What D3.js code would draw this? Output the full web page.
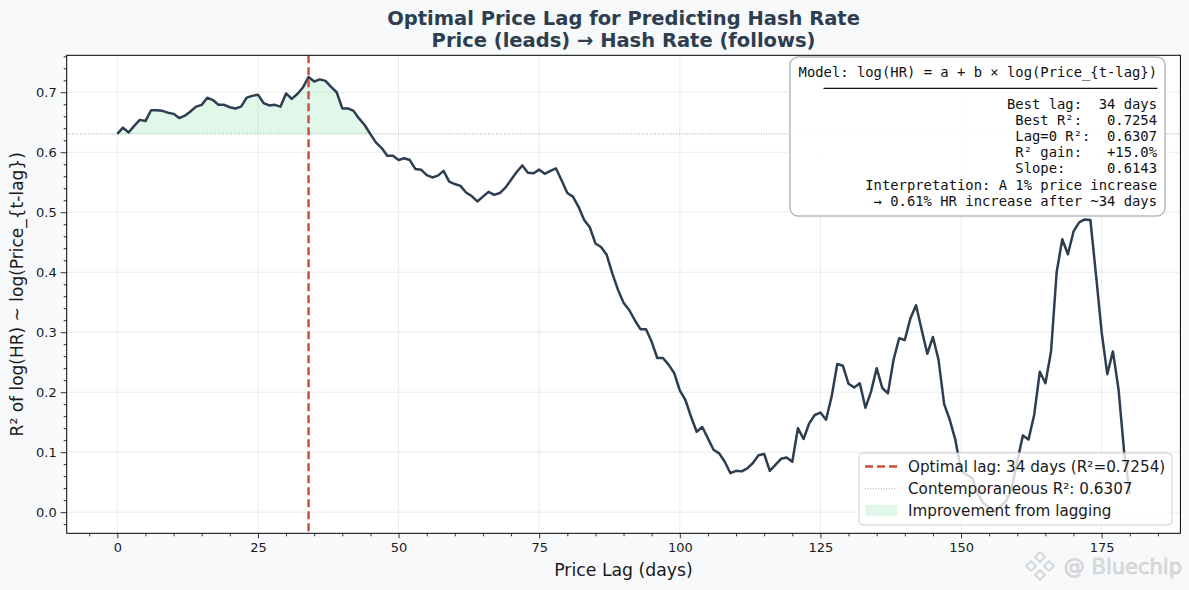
<!DOCTYPE html>
<html lang="en">
<head>
<meta charset="UTF-8">
<title>Optimal Price Lag for Predicting Hash Rate</title>
<script src="https://d3js.org/d3.v7.min.js"></script>
<style>
  body { margin: 0; background: #f8f9fa; }
  svg { display: block; font-family: "DejaVu Sans", sans-serif; }
  .mono { font-family: "DejaVu Sans Mono", monospace; }
  .tick text { font-family: "DejaVu Sans", sans-serif; }
</style>
</head>
<body>
<svg width="1189" height="590"></svg>
<script>
// ---- data ----
const r2 = [
  0.6307, 0.641, 0.633, 0.644, 0.654, 0.652, 0.670, 0.670, 0.669, 0.666,
  0.664, 0.657, 0.661, 0.668, 0.676, 0.679, 0.691, 0.687, 0.679, 0.679,
  0.675, 0.673, 0.676, 0.691, 0.694, 0.696, 0.682, 0.678, 0.679, 0.676,
  0.698, 0.689, 0.697, 0.708, 0.7254, 0.718, 0.7215, 0.719, 0.709, 0.700,
  0.673, 0.673, 0.669, 0.656, 0.645, 0.630, 0.616, 0.607, 0.594, 0.594,
  0.587, 0.590, 0.587, 0.572, 0.571, 0.562, 0.558, 0.561, 0.569, 0.551,
  0.547, 0.544, 0.533, 0.527, 0.518, 0.526, 0.534, 0.529, 0.532, 0.541,
  0.554, 0.567, 0.578, 0.566, 0.565, 0.571, 0.564, 0.569, 0.573, 0.553,
  0.532, 0.526, 0.509, 0.487, 0.475, 0.448, 0.442, 0.429, 0.398, 0.371,
  0.349, 0.337, 0.320, 0.305, 0.305, 0.284, 0.257, 0.257, 0.246, 0.232,
  0.203, 0.187, 0.159, 0.134, 0.142, 0.123, 0.104, 0.098, 0.084, 0.065,
  0.069, 0.068, 0.073, 0.082, 0.095, 0.097, 0.069, 0.079, 0.089, 0.091,
  0.084, 0.140, 0.122, 0.148, 0.162, 0.166, 0.154, 0.193, 0.247, 0.244,
  0.214, 0.208, 0.215, 0.174, 0.201, 0.240, 0.207, 0.198, 0.254, 0.290,
  0.287, 0.323, 0.345, 0.304, 0.264, 0.292, 0.254, 0.180, 0.154, 0.120,
  0.070, 0.062, 0.057, 0.030, 0.015, 0.008, 0.001, 0.010, 0.018, 0.040,
  0.085, 0.128, 0.121, 0.162, 0.234, 0.215, 0.268, 0.400, 0.455, 0.430,
  0.468, 0.483, 0.488, 0.487, 0.395, 0.300, 0.230, 0.268, 0.205, 0.100,
  0.030
];
const lags = r2.map((v, i) => i);

const bestLag = 34;
const bestR2 = 0.7254;
const lag0R2 = 0.6307;
const slope = 0.6143;

const xTicks = [0, 25, 50, 75, 100, 125, 150, 175];
const yTicks = [0.0, 0.1, 0.2, 0.3, 0.4, 0.5, 0.6, 0.7];

const boxLines = [
  "Model: log(HR) = a + b \u00d7 log(Price_{t-lag})",
  "\u2500".repeat(40),
  "Best lag:  " + bestLag + " days",
  "Best R\u00b2:   " + bestR2.toFixed(4),
  "Lag=0 R\u00b2:  " + lag0R2.toFixed(4),
  "R\u00b2 gain:   +" + ((bestR2 / lag0R2 - 1) * 100).toFixed(1) + "%",
  "Slope:     " + slope.toFixed(4),
  "Interpretation: A 1% price increase",
  "\u2192 " + slope.toFixed(2) + "% HR increase after ~" + bestLag + " days"
];

const legendItems = [
  { kind: "dash", label: "Optimal lag: " + bestLag + " days (R\u00b2=" + bestR2.toFixed(4) + ")" },
  { kind: "dot", label: "Contemporaneous R\u00b2: " + lag0R2.toFixed(4) },
  { kind: "fill", label: "Improvement from lagging" }
];

// ---- layout ----
const svg = d3.select("svg");
const W = 1189, H = 590;
const m = { left: 66.7, right: 1180.4, top: 55.3, bottom: 533.3 };

const lineColor = "#2c3e50";
const redColor = "#cc5040";
const fillColor = "#2ecc71";

svg.append("rect").attr("width", W).attr("height", H).attr("fill", "#f8f9fa");

// matplotlib-style 5% margins
const xExt = d3.extent(lags), yExt = d3.extent(r2);
const xPad = (xExt[1] - xExt[0]) * 0.05, yPad = (yExt[1] - yExt[0]) * 0.05;
const x = d3.scaleLinear().domain([xExt[0] - xPad, xExt[1] + xPad]).range([m.left, m.right]);
const y = d3.scaleLinear().domain([yExt[0] - yPad, yExt[1] + yPad]).range([m.bottom, m.top]);

svg.append("rect")
  .attr("x", m.left).attr("y", m.top)
  .attr("width", m.right - m.left).attr("height", m.bottom - m.top)
  .attr("fill", "white");

// grid
const grid = svg.append("g").attr("stroke", "#b0b0b0").attr("stroke-opacity", 0.3).attr("stroke-width", 0.8);
grid.selectAll(".gx").data(xTicks).join("line")
  .attr("x1", d => x(d)).attr("x2", d => x(d)).attr("y1", m.top).attr("y2", m.bottom);
grid.selectAll(".gy").data(yTicks).join("line")
  .attr("y1", d => y(d)).attr("y2", d => y(d)).attr("x1", m.left).attr("x2", m.right);

// clip for marks
svg.append("clipPath").attr("id", "plot")
  .append("rect").attr("x", m.left).attr("y", m.top)
  .attr("width", m.right - m.left).attr("height", m.bottom - m.top);
const plot = svg.append("g").attr("clip-path", "url(#plot)");

// improvement fill (above contemporaneous R²)
const area = d3.area()
  .x((d, i) => x(lags[i]))
  .y0(y(lag0R2))
  .y1(d => y(Math.max(d, lag0R2)));
plot.append("path").datum(r2)
  .attr("d", area)
  .attr("fill", fillColor).attr("fill-opacity", 0.15);

// contemporaneous baseline
plot.append("line")
  .attr("x1", m.left).attr("x2", m.right)
  .attr("y1", y(lag0R2)).attr("y2", y(lag0R2))
  .attr("stroke", "#95a5a6").attr("stroke-width", 1)
  .attr("stroke-dasharray", "1,1.65");

// R² curve
const line = d3.line().x((d, i) => x(lags[i])).y(d => y(d));
plot.append("path").datum(r2)
  .attr("d", line)
  .attr("fill", "none")
  .attr("stroke", lineColor).attr("stroke-width", 2.5)
  .attr("stroke-linejoin", "round");

// optimal lag
plot.append("line")
  .attr("x1", x(bestLag)).attr("x2", x(bestLag))
  .attr("y1", m.top).attr("y2", m.bottom)
  .attr("stroke", redColor).attr("stroke-width", 2.5)
  .attr("stroke-dasharray", "8,4");

// axes
const xMinor = d3.range(-5, 190, 5).filter(d => d % 25 !== 0);
const yMinor = d3.range(-2, 77, 2).map(d => d / 100).filter(d => Math.round(d * 100) % 10 !== 0);

svg.append("g").attr("transform", `translate(0,${m.bottom})`)
  .call(d3.axisBottom(x).tickValues(xTicks).tickFormat(d3.format("d")).tickSize(5).tickPadding(4).tickSizeOuter(0));
svg.append("g").attr("transform", `translate(0,${m.bottom})`)
  .call(d3.axisBottom(x).tickValues(xMinor).tickFormat("").tickSize(3).tickSizeOuter(0));

svg.append("g").attr("transform", `translate(${m.left},0)`)
  .call(d3.axisLeft(y).tickValues(yTicks).tickFormat(d3.format(".1f")).tickSize(6).tickPadding(4).tickSizeOuter(0));
svg.append("g").attr("transform", `translate(${m.left},0)`)
  .call(d3.axisLeft(y).tickValues(yMinor).tickFormat("").tickSize(3).tickSizeOuter(0));

svg.selectAll(".tick text").attr("font-size", 13).attr("fill", "#1a1a1a");
svg.selectAll(".tick line").attr("stroke", "#000").attr("stroke-width", 0.8);
svg.selectAll(".domain").remove();

// spines
svg.append("rect")
  .attr("x", m.left).attr("y", m.top)
  .attr("width", m.right - m.left).attr("height", m.bottom - m.top)
  .attr("fill", "none").attr("stroke", "#000").attr("stroke-width", 1);

// labels
svg.append("text")
  .attr("x", (m.left + m.right) / 2).attr("y", 576)
  .attr("text-anchor", "middle").attr("font-size", 17.3).attr("fill", "#1a1a1a")
  .text("Price Lag (days)");

svg.append("text")
  .attr("transform", `translate(23,${(m.top + m.bottom) / 2}) rotate(-90)`)
  .attr("text-anchor", "middle").attr("font-size", 17).attr("fill", "#1a1a1a")
  .text("R\u00b2 of log(HR) ~ log(Price_{t-lag})");

const title = svg.append("text")
  .attr("text-anchor", "middle").attr("font-size", 19.5).attr("font-weight", "bold")
  .attr("fill", lineColor);
title.append("tspan").attr("x", (m.left + m.right) / 2).attr("y", 25).text("Optimal Price Lag for Predicting Hash Rate");
title.append("tspan").attr("x", (m.left + m.right) / 2).attr("y", 46.5).text("Price (leads) \u2192 Hash Rate (follows)");

// stats box
svg.append("rect")
  .attr("x", 790).attr("y", 57).attr("width", 375).attr("height", 159).attr("rx", 8)
  .attr("fill", "white").attr("fill-opacity", 0.9)
  .attr("stroke", "#b8bcc0").attr("stroke-width", 1.5);
const box = svg.append("text").attr("class", "mono")
  .attr("text-anchor", "end").attr("font-size", 13.85).attr("fill", "#111")
  .attr("xml:space", "preserve").style("white-space", "pre");
boxLines.forEach((t, i) => {
  box.append("tspan").attr("x", 1157).attr("y", 76.5 + i * 16.15).text(t);
});

// legend
const lg = svg.append("g");
lg.append("rect")
  .attr("x", 859).attr("y", 453).attr("width", 313).attr("height", 72).attr("rx", 4)
  .attr("fill", "white").attr("fill-opacity", 0.8)
  .attr("stroke", "#d0d0d0").attr("stroke-width", 1);
legendItems.forEach((it, i) => {
  const by = 471.5 + i * 22.2;
  if (it.kind === "dash") {
    lg.append("line").attr("x1", 865).attr("x2", 897).attr("y1", by - 5).attr("y2", by - 5)
      .attr("stroke", redColor).attr("stroke-width", 2.5).attr("stroke-dasharray", "8,4");
  } else if (it.kind === "dot") {
    lg.append("line").attr("x1", 865).attr("x2", 897).attr("y1", by - 5).attr("y2", by - 5)
      .attr("stroke", "#95a5a6").attr("stroke-width", 1).attr("stroke-dasharray", "1,1.65");
  } else {
    lg.append("rect").attr("x", 865).attr("y", by - 11).attr("width", 32).attr("height", 11)
      .attr("fill", fillColor).attr("fill-opacity", 0.15);
  }
  lg.append("text").attr("x", 908).attr("y", by)
    .attr("font-size", 15.2).attr("fill", "#1a1a1a").text(it.label);
});

// watermark
const wm = svg.append("g").attr("opacity", 0.85);
const cx = 1040, cy = 566;
[[0, -9], [-9, 0], [9, 0], [0, 9]].forEach(([dx, dy]) => {
  wm.append("rect").attr("x", cx + dx - 3.5).attr("y", cy + dy - 3.5)
    .attr("width", 7).attr("height", 7)
    .attr("transform", `rotate(45,${cx + dx},${cy + dy})`)
    .attr("fill", "none").attr("stroke", "#cfd3d6").attr("stroke-width", 2);
});
wm.append("text").attr("x", 1182).attr("y", 574).attr("text-anchor", "end")
  .attr("font-size", 21).attr("fill", "#d9dcdf")
  .attr("stroke", "#bfc3c7").attr("stroke-width", 0.6)
  .text("@ Bluechip");
</script>
</body>
</html>
